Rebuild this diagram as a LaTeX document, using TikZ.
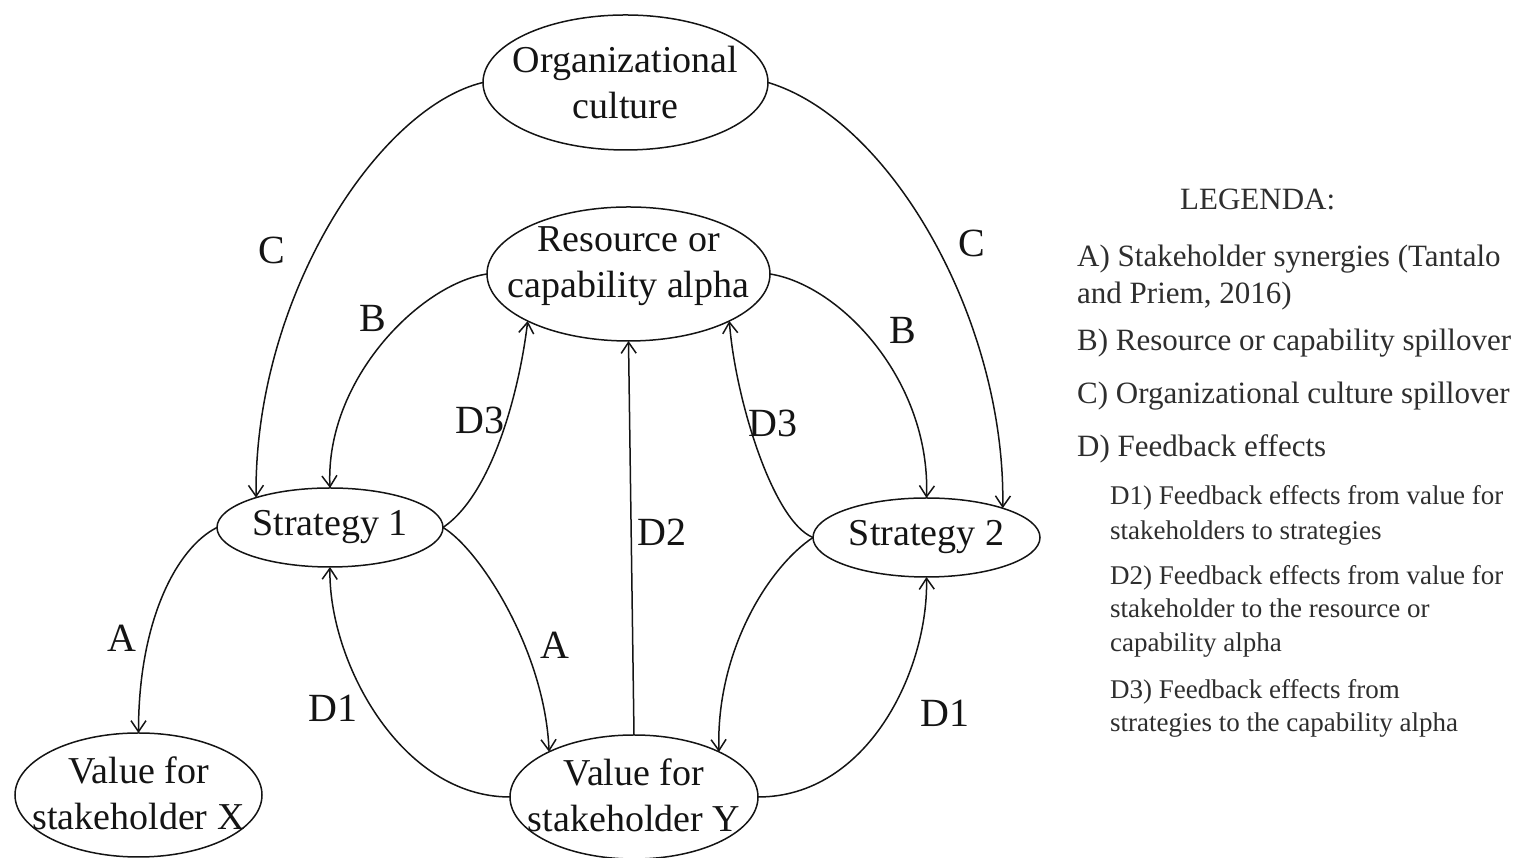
\documentclass[tikz,border=0pt]{standalone}
\usepackage{fontspec}
\setmainfont{Liberation Serif}
\usetikzlibrary{arrows.meta,shapes.geometric}
\definecolor{ink}{gray}{0.08}
\definecolor{legendink}{gray}{0.18}
\begin{document}
\begin{tikzpicture}[x=1pt,y=1pt,
  ell/.style={draw=ink, ellipse, line width=1.5pt, inner sep=0pt, outer sep=0pt},
  etext/.style={font=\fontsize{38}{46}\selectfont, align=center, text=ink, inner sep=0pt},
  lab/.style={font=\fontsize{40}{48}\selectfont, text=ink, inner sep=0pt},
  conn/.style={draw=ink, line width=1.5pt, -{Straight Barb[length=11pt,width=15pt]}},
  leg/.style={font=\fontsize{31}{38}\selectfont, text=legendink, anchor=base west, inner sep=0pt},
  legsub/.style={font=\fontsize{27}{33}\selectfont, text=legendink, anchor=base west, inner sep=0pt}
]
\useasboundingbox (0,0) rectangle (1528,858);

% ellipses
\node[ell, minimum width=285pt, minimum height=135pt] (org) at (625.5,775.5) {};
\node[etext] (orgT) at (org.center) {Organizational\\culture};
\node[ell, minimum width=283pt, minimum height=134pt] (res) at (628.5,584) {};
\node[etext] (resT) at ([yshift=8pt]res.center) {Resource or\\capability alpha};
\node[ell, minimum width=226pt, minimum height=79pt] (s1) at (330,330.5) {};
\node[etext] (s1T) at (s1.center) {Strategy 1};
\node[ell, minimum width=227pt, minimum height=79pt] (s2) at (926.5,320.5) {};
\node[etext] (s2T) at (s2.center) {Strategy 2};
\node[ell, minimum width=247pt, minimum height=124pt] (vx) at (138.5,63) {};
\node[etext] (vxT) at ([yshift=2pt]vx.center) {Value for\\stakeholder X};
\node[ell, minimum width=248pt, minimum height=124pt] (vy) at (634,61) {};
\node[etext] (vyT) at ([yshift=2pt]vy.center) {Value for\\stakeholder Y};

% connectors
\draw[conn] (org.180) .. controls +(-105,-25) and +(-2,200) .. (s1.158);
\draw[conn] (org.0) .. controls +(123,-37) and +(3,187) .. (s2.21);
\draw[conn] (res.180) .. controls +(-67,-10) and +(-5,108) .. (s1.90);
\draw[conn] (res.0) .. controls +(70,-11) and +(4,118) .. (s2.90);
\draw[conn] (s1.0) .. controls +(50,34) and +(-8,-68) .. (res.205);
\draw[conn] (s2.180) .. controls +(-40,16) and +(6,-78) .. (res.335);
\draw[conn] (vy.90) -- (res.270);
\draw[conn] (s1.180) .. controls +(-40,-20) and +(0,113) .. (vx.90);
\draw[conn] (s1.0) .. controls +(37,-22) and +(-4,100) .. (vy.152);
\draw[conn] (vy.180) .. controls +(-110,0) and +(-2,-93) .. (s1.270);
\draw[conn] (vy.0) .. controls +(110,0) and +(2,-93) .. (s2.270);
\draw[conn] (s2.180) .. controls +(-45,-30) and +(-3,100) .. (vy.28);

% connector labels
\node[lab] (lC1) at (272,608) {C};
\node[lab] (lC2) at (972,615) {C};
\node[lab] (lB1) at (373,540) {B};
\node[lab] (lB2) at (903,528) {B};
\node[lab] (lD31) at (480,438) {D3};
\node[lab] (lD32) at (773,435) {D3};
\node[lab] (lD2) at (662,326) {D2};
\node[lab] (lA1) at (122,220) {A};
\node[lab] (lA2) at (555,213) {A};
\node[lab] (lD11) at (333,150) {D1};
\node[lab] (lD12) at (945,145) {D1};

% legend
\node[leg] (lgT) at (1180,648) {LEGENDA:};
\node[leg] (lgA1) at (1077,591) {A) Stakeholder synergies (Tantalo};
\node[leg] (lgA2) at (1077,554) {and Priem, 2016)};
\node[leg] (lgB) at (1077,507) {B) Resource or capability spillover};
\node[leg] (lgC) at (1077,454) {C) Organizational culture spillover};
\node[leg] (lgD) at (1077,401) {D) Feedback effects};
\node[legsub] (lgD1a) at (1110,353) {D1) Feedback effects from value for};
\node[legsub] (lgD1b) at (1110,318) {stakeholders to strategies};
\node[legsub] (lgD2a) at (1110,273) {D2) Feedback effects from value for};
\node[legsub] (lgD2b) at (1110,240) {stakeholder to the resource or};
\node[legsub] (lgD2c) at (1110,206) {capability alpha};
\node[legsub] (lgD3a) at (1110,159) {D3) Feedback effects from};
\node[legsub] (lgD3b) at (1110,126) {strategies to the capability alpha};
\end{tikzpicture}
\end{document}
